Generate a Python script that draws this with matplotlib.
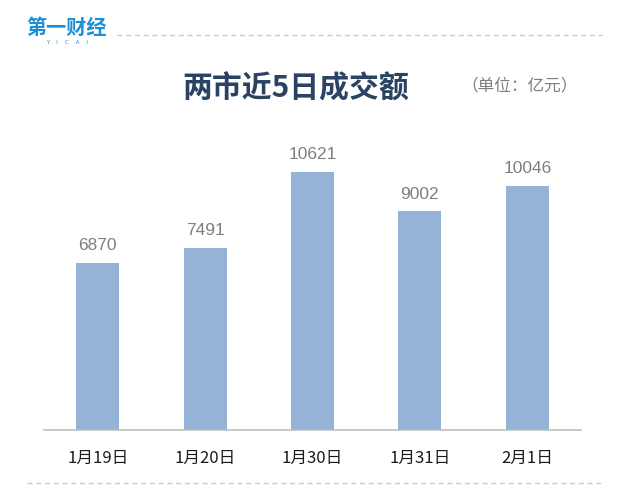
import matplotlib
matplotlib.use("Agg")
import matplotlib.pyplot as plt
from matplotlib.lines import Line2D

plt.rcParams['font.family'] = ['Noto Sans CJK SC', 'DejaVu Sans']

categories = ["1月19日", "1月20日", "1月30日", "1月31日", "2月1日"]
values = [6870, 7491, 10621, 9002, 10046]
title = "两市近5日成交额"
unit = "（单位：亿元）"

W, H = 624, 496
fig = plt.figure(figsize=(W / 100, H / 100), dpi=100)

# axes: x from 45 to 581 px, y baseline at 430 px, top at 130 px
ax = fig.add_axes([44 / W, (H - 430) / H, (581 - 44) / W, 300 / H])
x = range(len(categories))
ax.bar(x, values, width=0.4, color="#95b3d7", zorder=2)
ax.set_xlim(-0.5, len(categories) - 0.5)
ax.set_ylim(0, 300 / 0.0243)
for xi, v in zip(x, values):
    ax.annotate(f"{v}", (xi, v), xytext=(0, 7), textcoords="offset points",
                ha="center", va="bottom", fontsize=12.5, color="#7f7f7f",
                family=["Liberation Sans", "DejaVu Sans"])
ax.set_xticks(list(x))
ax.set_xticklabels(categories, fontsize=12, color="#1a1a1a")
ax.tick_params(axis="x", length=0, pad=14)
ax.set_yticks([])
for s in ["top", "right", "left"]:
    ax.spines[s].set_visible(False)
ax.spines["bottom"].set_color("#bfbfbf")
ax.spines["bottom"].set_linewidth(1.2)

# title and unit
fig.text(296 / W, 1 - 88 / H, title, ha="center", va="center", fontsize=21.5,
         fontweight="bold", color="#2a4363")
fig.text(520 / W, 1 - 86 / H, unit, ha="center", va="center", fontsize=12,
         color="#7f7f7f")

# logo
fig.text(26 / W, 1 - 27 / H, "第一财经", ha="left", va="center", fontsize=14.5,
         fontweight="bold", color="#1b8fd6")
fig.text(67 / W, 1 - 42 / H, "Y    I    C    A    I", ha="center", va="center",
         fontsize=4, color="#1b8fd6", family=["DejaVu Sans"])

# dashed lines
fig.add_artist(Line2D([117 / W, 602 / W], [1 - 35 / H, 1 - 35 / H],
                      transform=fig.transFigure, color="#c8c8c8",
                      linestyle=(0, (4, 3)), linewidth=0.9))
fig.add_artist(Line2D([27 / W, 602 / W], [1 - 483 / H, 1 - 483 / H],
                      transform=fig.transFigure, color="#c8c8c8",
                      linestyle=(0, (4, 3)), linewidth=0.9))

fig.savefig("out.png", dpi=100)
